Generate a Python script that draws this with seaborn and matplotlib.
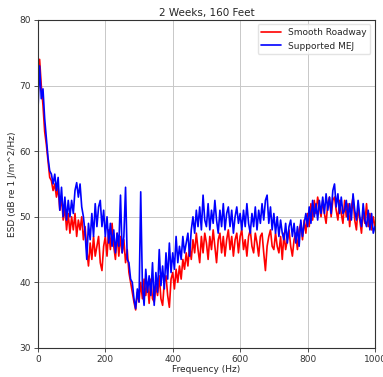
import numpy as np
import pandas as pd
import matplotlib
matplotlib.use("Agg")
import matplotlib.pyplot as plt
import seaborn as sns

# Frequency axis (Hz), 5 Hz bins
freq = list(range(0, 1001, 5))

smooth_roadway = [
    68, 74, 70, 67, 63, 61, 58.5, 56, 55.5, 54,
    55, 53, 54.5, 51, 53, 49.5, 51.5, 48, 50.5, 47.5,
    50, 48, 50.5, 47, 49.5, 48, 50, 46.5, 48.5, 45,
    42.5, 46, 43.5, 47, 44, 45.5, 47, 43, 41.8, 45.5,
    47, 44, 48, 45, 49, 45.5, 43.5, 47.5, 44, 47,
    44.5, 46.5, 43, 45, 41.5, 40, 38.5, 37, 35.8, 38.5,
    37, 40, 37.5, 40.5, 38, 40, 36.8, 40.5, 37.5, 37,
    39.5, 38, 41, 37.5, 36.5, 40, 41, 38, 36.2, 40.5,
    41.5, 39, 42, 40, 42.5, 40.5, 43.5, 42, 44.5, 42.5,
    45.5, 43.5, 46.5, 44.5, 47.5, 45, 43, 47, 44.5, 47.5,
    46, 43.5, 47, 45, 48, 45.5, 43, 46.5, 47.5, 44.5,
    47, 44, 46.5, 48, 45, 47, 44, 46.5, 47.5, 44.5,
    47, 48, 45, 46.5, 44, 47, 48, 45.5, 44.5, 47.5,
    46, 44, 47, 47.5, 44.5, 41.8, 45.5, 47, 48, 45.5,
    45, 47.5, 45.5, 44.5, 47, 43.5, 47.5, 45, 46.5, 48,
    45.5, 44, 46.5, 47.5, 45, 48, 49, 46.5, 49.5, 47.5,
    50.5, 48.5, 52, 49.5, 52.5, 50.5, 53, 51.5, 50, 52.5,
    50.5, 49, 52, 53, 50, 52.5, 53, 51, 49.5, 52.5,
    50.5, 49, 52.5, 50, 52, 48.5, 51.5, 53, 49.5, 48,
    51.5, 49.5, 47.5, 51, 49, 52, 48.5, 50.5, 48, 50,
    48.5,
]

supported_mej = [
    66, 73, 68, 69.5, 65, 62, 59, 57, 56.5, 55,
    56.5, 54, 56, 51, 54.5, 50, 53, 49.5, 52.5, 50,
    52.5, 50.5, 54, 55.2, 53, 55, 51.5, 50, 47.5, 43.5,
    49, 46.5, 50.5, 47, 52, 48.5, 51.5, 52.5, 48.5, 51,
    47, 50, 46, 49, 45.5, 48, 44.5, 47.5, 45.5, 53.3,
    44.5, 47, 54.5, 43.5, 43, 40.5, 40, 37.5, 36, 39,
    37, 53.8, 39.5, 36.5, 42, 38.5, 41, 38, 43, 36.5,
    41.5, 38.5, 45, 39.5, 42.5, 39, 44.5, 40.5, 46, 41.5,
    44.5, 42, 47, 43, 45.5, 43.5, 47, 44.5, 46, 47.5,
    44, 48, 50, 47.5, 51, 48.5, 51.5, 48, 53.3, 49.5,
    48.5, 52, 48, 51, 49, 52.5, 49.5, 47.5, 51, 48.5,
    52, 48, 50.5, 51.5, 48.5, 51, 47.5, 50, 51.5, 49,
    50.5, 48, 51, 48.5, 52, 49, 47.5, 50.5, 48.5, 51.5,
    48, 51, 49, 52, 49.5, 52.5, 53.3, 49, 51.5, 48,
    50.5, 47.5, 50, 47, 49.5, 47.5, 46.5, 49, 46, 48.5,
    49.5, 47, 49, 46, 48.5, 45.5, 49.5, 47, 49, 50.5,
    48.5, 51.5, 49, 52.5, 50, 52, 49.5, 52.5, 50.5, 53,
    50.5, 53.5, 51, 53, 50.5, 54, 55, 51.5, 53.5, 50.5,
    53, 50.5, 51, 52.5, 49.5, 52, 49.5, 53.5, 51, 49.5,
    52.5, 50, 48.5, 52, 49.5, 48.5, 51, 48, 50.5, 47.5,
    48.5,
]

series_names = ["Smooth Roadway", "Supported MEJ"]
series_colors = {"Smooth Roadway": "red", "Supported MEJ": "blue"}

x_ticks = [0, 200, 400, 600, 800, 1000]
y_ticks = [30, 40, 50, 60, 70, 80]

df = pd.concat([
    pd.DataFrame({"Frequency": freq, "ESD": smooth_roadway, "Series": series_names[0]}),
    pd.DataFrame({"Frequency": freq, "ESD": supported_mej, "Series": series_names[1]}),
], ignore_index=True)

sns.set_theme(style="whitegrid", rc={
    "axes.edgecolor": "#333333",
    "axes.linewidth": 0.8,
    "grid.color": "#c8c8c8",
    "grid.linewidth": 0.7,
    "xtick.bottom": True,
    "ytick.left": True,
    "xtick.major.size": 3,
    "ytick.major.size": 3,
    "xtick.major.width": 0.6,
    "ytick.major.width": 0.6,
    "xtick.color": "#333333",
    "ytick.color": "#333333",
})
plt.rcParams["font.family"] = ["DejaVu Sans"]

fig = plt.figure(figsize=(3.83, 3.77), dpi=100)
ax = fig.add_axes([0.099, 0.077, 0.880, 0.870])

sns.lineplot(data=df, x="Frequency", y="ESD", hue="Series", hue_order=series_names,
             palette=series_colors, estimator=None, linewidth=1.2, ax=ax)

ax.set_xlim(0, 1000)
ax.set_ylim(30, 80)
ax.set_xticks(x_ticks)
ax.set_yticks(y_ticks)
ax.tick_params(labelsize=6.5, pad=2)
ax.set_title("2 Weeks, 160 Feet", fontsize=7.5, pad=3)
ax.set_xlabel("Frequency (Hz)", fontsize=6.5, labelpad=1)
ax.set_ylabel("ESD (dB re 1 J/m^2/Hz)", fontsize=6.5, labelpad=2)

leg = ax.legend(loc="upper right", fontsize=6.5, frameon=True, handlelength=2.2)
leg.get_frame().set_edgecolor("#dddddd")

fig.savefig("out.png", dpi=100)
